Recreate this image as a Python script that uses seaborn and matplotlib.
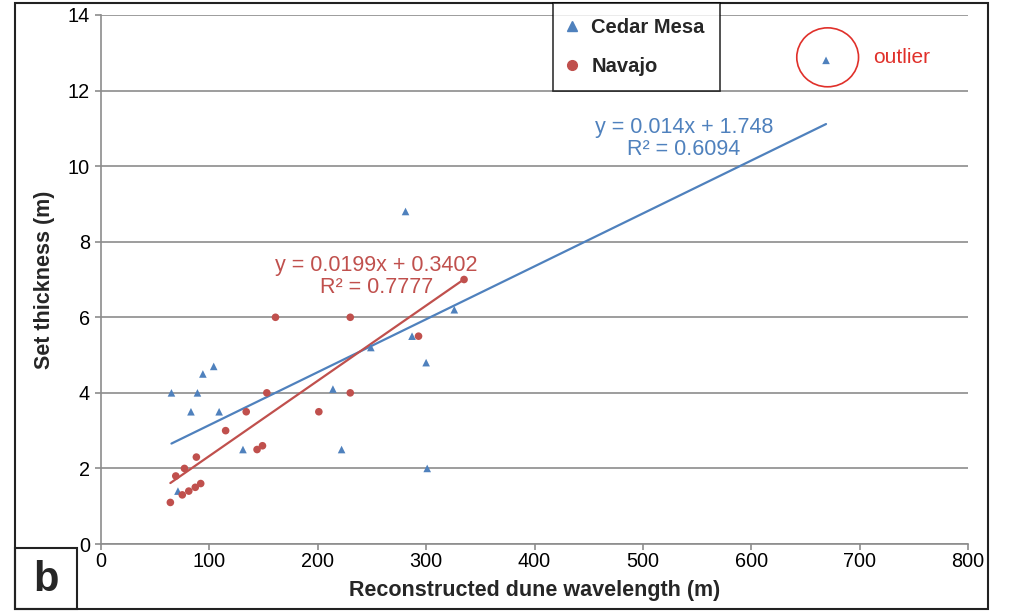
import numpy as np
import pandas as pd
import matplotlib
matplotlib.use("Agg")
import matplotlib.pyplot as plt
from matplotlib.patches import Rectangle, Ellipse
from matplotlib.lines import Line2D
import seaborn as sns

# data
cedar_x = [65, 71, 83, 89, 94, 104, 109, 131, 214, 222, 249, 281, 287, 300, 301, 326, 669]
cedar_y = [4.0, 1.4, 3.5, 4.0, 4.5, 4.7, 3.5, 2.5, 4.1, 2.5, 5.2, 8.8, 5.5, 4.8, 2.0, 6.2, 12.8]
navajo_x = [64, 69, 75, 77, 81, 87, 88, 92, 115, 134, 144, 149, 153, 161, 201, 230, 230, 293, 335]
navajo_y = [1.1, 1.8, 1.3, 2.0, 1.4, 1.5, 2.3, 1.6, 3.0, 3.5, 2.5, 2.6, 4.0, 6.0, 3.5, 6.0, 4.0, 5.5, 7.0]
cedar_fit = (0.014, 1.748, 0.6094)
navajo_fit = (0.0199, 0.3402, 0.7777)

blue = "#4F81BD"
red = "#C0504D"
mark_red = "#E0302A"
grid_c = "#8C8C8C"

df = pd.DataFrame({
    "wavelength": cedar_x + navajo_x,
    "thickness": cedar_y + navajo_y,
    "unit": ["Cedar Mesa"] * len(cedar_x) + ["Navajo"] * len(navajo_x),
})

sns.set_style("white")
plt.rcParams["font.family"] = ["Liberation Sans", "DejaVu Sans"]

fig = plt.figure(figsize=(10.09, 6.11), dpi=100)
ax = fig.add_axes([101 / 1009, 1 - 544 / 611, (968 - 101) / 1009, (544 - 15) / 611])

sns.scatterplot(data=df, x="wavelength", y="thickness", hue="unit", style="unit",
                palette={"Cedar Mesa": blue, "Navajo": red},
                markers={"Cedar Mesa": "^", "Navajo": "o"},
                s=30, linewidth=0, legend=False, ax=ax, zorder=3)

# trendlines (Excel linear fits, over each series' x range)
for xs, (m, b, r2), col in [(cedar_x, cedar_fit, blue), (navajo_x, navajo_fit, red)]:
    lx = np.array([min(xs), max(xs)])
    sns.lineplot(x=lx, y=m * lx + b, color=col, linewidth=1.6, ax=ax, zorder=2)

ax.text(538, 10.74, "y = 0.014x + 1.748\nR² = 0.6094", color=blue, fontsize=15.5,
        ha="center", va="center", linespacing=1.05)
ax.text(254, 7.08, "y = 0.0199x + 0.3402\nR² = 0.7777", color=red, fontsize=15.5,
        ha="center", va="center", linespacing=1.05)

# outlier mark
ax.add_patch(Ellipse((670.5, 12.88), 57, 1.56, fill=False, ec=mark_red, lw=1.2, clip_on=False))
ax.text(712, 12.88, "outlier", color=mark_red, fontsize=15, ha="left", va="center",
        clip_on=False)

ax.set_xlim(0, 800)
ax.set_ylim(0, 14)
ax.set_xticks(range(0, 801, 100))
ax.set_yticks(range(0, 15, 2))
ax.yaxis.grid(True, color=grid_c, linewidth=1.2)
ax.set_axisbelow(True)
for s in ["top", "right"]:
    ax.spines[s].set_visible(False)
for s in ["left", "bottom"]:
    ax.spines[s].set_color(grid_c)
    ax.spines[s].set_linewidth(1.2)
ax.tick_params(axis="both", which="major", direction="out", length=4, width=1.2,
               color=grid_c, labelsize=14.3, labelcolor="black", pad=4,
               left=True, bottom=True)
ax.tick_params(axis="x", pad=2)
ax.set_xlabel("Reconstructed dune wavelength (m)", fontsize=15.5, fontweight="bold", labelpad=6)
ax.set_ylabel("Set thickness (m)", fontsize=15.5, fontweight="bold", labelpad=9)

handles = [Line2D([], [], marker="^", color=blue, linestyle="none", markersize=7),
           Line2D([], [], marker="o", color=red, linestyle="none", markersize=7)]
leg = fig.legend(handles, ["Cedar Mesa", "Navajo"], loc="upper left",
                 bbox_to_anchor=(553 / 1009, 1 - 3 / 611), borderaxespad=0,
                 frameon=True, fancybox=False,
                 prop={"weight": "bold", "size": 14.5}, labelspacing=1.0,
                 handletextpad=0.75, borderpad=0.75, handlelength=0.4)
leg.get_frame().set_edgecolor("black")
leg.get_frame().set_linewidth(1.2)

# chart frame and panel letter
fig.patches.append(Rectangle((15 / 1009, 1 - 609 / 611), (988 - 15) / 1009, (609 - 3) / 611,
                             transform=fig.transFigure, fill=False, ec="#222222", lw=1.5))
fig.patches.append(Rectangle((15 / 1009, 1 - 609 / 611), (77 - 15) / 1009, (609 - 548) / 611,
                             transform=fig.transFigure, fill=False, ec="#222222", lw=1.5))
fig.text(46 / 1009, 1 - 580 / 611, "b", fontsize=30, fontweight="bold", ha="center", va="center")

fig.savefig("out.png", dpi=100)
